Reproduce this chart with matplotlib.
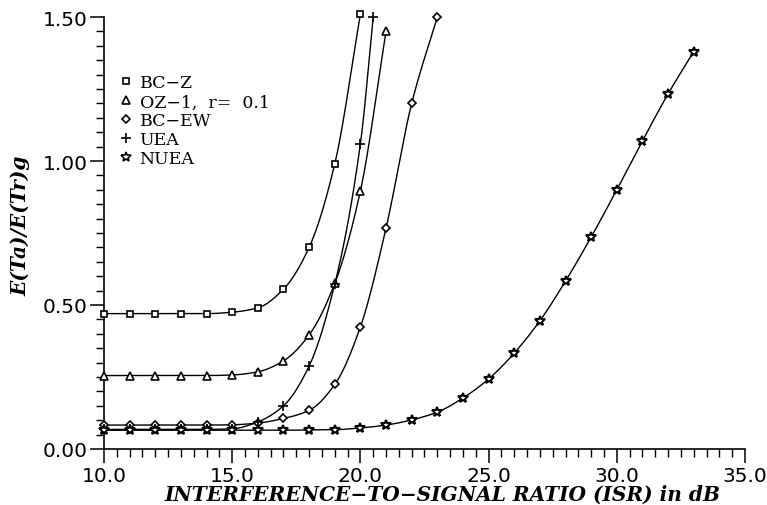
import numpy as np
import matplotlib
matplotlib.use("Agg")
import matplotlib.pyplot as plt
from matplotlib.lines import Line2D
from matplotlib.ticker import MultipleLocator, FormatStrFormatter

# ISR (dB) sample points and normalised detection-time ratio for each scheme
isr_bcz = [10, 11, 12, 13, 14, 15, 16, 17, 18, 19, 20]
val_bcz = [0.470, 0.470, 0.470, 0.470, 0.470, 0.475, 0.490, 0.555, 0.700, 0.990, 1.510]

isr_oz1 = [10, 11, 12, 13, 14, 15, 16, 17, 18, 19, 20, 21]
val_oz1 = [0.255, 0.255, 0.255, 0.255, 0.255, 0.257, 0.268, 0.306, 0.396, 0.575, 0.896, 1.450]

isr_bcew = [10, 11, 12, 13, 14, 15, 16, 17, 18, 19, 20, 21, 22, 23]
val_bcew = [0.083, 0.083, 0.083, 0.083, 0.083, 0.084, 0.090, 0.106, 0.134, 0.224,
            0.424, 0.767, 1.200, 1.500]

isr_uea = [10, 11, 12, 13, 14, 15, 16, 17, 18, 19, 20, 20.5]
val_uea = [0.068, 0.068, 0.068, 0.068, 0.068, 0.070, 0.094, 0.150, 0.288, 0.572, 1.060, 1.500]

isr_nuea = [10, 11, 12, 13, 14, 15, 16, 17, 18, 19, 20, 21, 22, 23, 24, 25, 26, 27,
            28, 29, 30, 31, 32, 33]
val_nuea = [0.065, 0.065, 0.065, 0.065, 0.065, 0.065, 0.065, 0.065, 0.066, 0.067,
            0.073, 0.083, 0.101, 0.128, 0.177, 0.243, 0.333, 0.445, 0.583, 0.736,
            0.900, 1.070, 1.233, 1.380]

labels = ["BC\u2212Z", "OZ\u22121,  r=  0.1", "BC\u2212EW", "UEA", "NUEA"]
markers = ["s", "^", "D", "+", "*"]
marker_sizes = [4.6, 5.2, 4.2, 7.5, 7.5]


def smooth_curve(x, y, n=20):
    """Monotone cubic (Fritsch-Carlson) path through the sample points."""
    x = np.asarray(x, float)
    y = np.asarray(y, float)
    h = np.diff(x)
    d = np.diff(y) / h
    m = np.zeros_like(y)
    m[0], m[-1] = d[0], d[-1]
    for i in range(1, len(y) - 1):
        if d[i - 1] * d[i] <= 0:
            m[i] = 0.0
        else:
            w1 = 2 * h[i] + h[i - 1]
            w2 = h[i] + 2 * h[i - 1]
            m[i] = (w1 + w2) / (w1 / d[i - 1] + w2 / d[i])
    xs, ys = [], []
    for i in range(len(x) - 1):
        t = np.linspace(0, 1, n, endpoint=False)
        h00 = 2 * t**3 - 3 * t**2 + 1
        h10 = t**3 - 2 * t**2 + t
        h01 = -2 * t**3 + 3 * t**2
        h11 = t**3 - t**2
        xs.append(x[i] + t * h[i])
        ys.append(h00 * y[i] + h10 * h[i] * m[i] + h01 * y[i + 1] + h11 * h[i] * m[i + 1])
    xs.append([x[-1]])
    ys.append([y[-1]])
    return np.concatenate(xs), np.concatenate(ys)


fig = plt.figure(figsize=(7.67, 5.06), dpi=100)
ax = fig.add_axes([0.1356, 0.1107, 0.8357, 0.8537])

series = [(isr_bcz, val_bcz), (isr_oz1, val_oz1), (isr_bcew, val_bcew),
          (isr_uea, val_uea), (isr_nuea, val_nuea)]

handles = []
for (xs, ys), mk, ms, lab in zip(series, markers, marker_sizes, labels):
    cx, cy = smooth_curve(xs, ys)
    ax.plot(cx, cy, color="black", lw=1.0, clip_on=False, zorder=2)
    ax.plot(xs, ys, linestyle="none", marker=mk, markersize=ms,
            markerfacecolor="white", markeredgecolor="black",
            markeredgewidth=1.5 if mk == "*" else 1.2, clip_on=False, zorder=3)
    handles.append(Line2D([], [], linestyle="none", marker=mk, markersize=ms,
                          markerfacecolor="white", markeredgecolor="black",
                          markeredgewidth=1.2, label=lab))

ax.set_xlim(10, 35)
ax.set_ylim(0, 1.5)

ax.spines["top"].set_visible(False)
ax.spines["right"].set_visible(False)
for s in ("left", "bottom"):
    ax.spines[s].set_linewidth(1.2)

ax.xaxis.set_major_locator(MultipleLocator(5))
ax.xaxis.set_minor_locator(MultipleLocator(0.5))
ax.yaxis.set_major_locator(MultipleLocator(0.5))
ax.yaxis.set_minor_locator(MultipleLocator(0.05))
ax.xaxis.set_major_formatter(FormatStrFormatter("%.1f"))
ax.yaxis.set_major_formatter(FormatStrFormatter("%.2f"))

ax.tick_params(which="major", direction="out", length=10, width=1.1,
               labelsize=14.5, pad=2)
ax.tick_params(which="minor", direction="out", length=6, width=1.0)
for lbl in ax.get_xticklabels() + ax.get_yticklabels():
    lbl.set_fontfamily("DejaVu Sans")

ax.set_xlabel("INTERFERENCE\u2212TO\u2212SIGNAL RATIO (ISR) in dB",
              fontfamily="DejaVu Serif", fontstyle="italic", fontweight="bold",
              fontsize=14.5)
ax.xaxis.set_label_coords(0.528, -0.08)
ax.set_ylabel("E(Ta)/E(Tr)g", fontfamily="DejaVu Serif", fontstyle="italic",
              fontweight="bold", fontsize=14.5)
ax.yaxis.set_label_coords(-0.115, 0.52)

leg = ax.legend(handles=handles, loc="upper left", bbox_to_anchor=(0.015, 0.883),
                frameon=False, handlelength=0.6, handletextpad=0.5,
                labelspacing=0.11, borderaxespad=0,
                prop={"family": "DejaVu Serif", "size": 12.5})

fig.savefig("out.png", dpi=100)
